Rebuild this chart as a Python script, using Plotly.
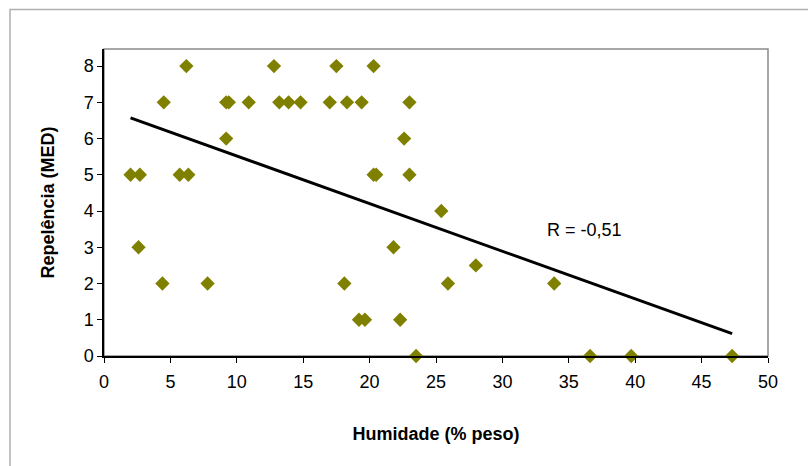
import numpy as np
import plotly.graph_objects as go

# Humidade (% peso) and Repelência (MED)
humidade = [4.5, 9.2, 9.4, 10.9, 13.2, 13.9, 14.8, 17.0, 18.3, 19.4, 23.0,
            6.2, 12.8, 17.5, 20.3,
            9.2, 22.6,
            2.0, 2.7, 5.7, 6.35, 20.3, 20.5, 23.0,
            25.4,
            2.6, 21.8,
            28.0,
            4.4, 7.8, 18.1, 25.9, 33.9,
            19.2, 19.65, 22.3,
            23.5, 36.6, 39.7, 47.3]
repelencia = [7, 7, 7, 7, 7, 7, 7, 7, 7, 7, 7,
              8, 8, 8, 8,
              6, 6,
              5, 5, 5, 5, 5, 5, 5,
              4,
              3, 3,
              2.5,
              2, 2, 2, 2, 2,
              1, 1, 1,
              0, 0, 0, 0]
r_label = "R = -0,51"
x_ticks = list(range(0, 51, 5))
y_ticks = list(range(0, 9))

x = np.array(humidade)
y = np.array(repelencia)
slope, intercept = np.polyfit(x, y, 1)
xt = np.array([x.min(), x.max()])
yt = slope * xt + intercept

FONT = "Liberation Sans, Arial, sans-serif"
L, R, T, B = 104, 40, 49, 110
W, H = 808, 466
pw, ph = W - L - R, H - T - B

def px(xp):
    return (xp - L) / pw

def py(yp):
    return (H - B - yp) / ph

fig = go.Figure()
fig.add_trace(go.Scatter(x=x, y=y, mode="markers",
                         marker=dict(symbol="diamond", size=11, color="#808000",
                                     line=dict(width=0)),
                         showlegend=False, cliponaxis=False))
fig.add_trace(go.Scatter(x=xt, y=yt, mode="lines",
                         line=dict(color="black", width=3),
                         showlegend=False))

fig.add_annotation(x=36.2, y=3.48, text=r_label, showarrow=False,
                   font=dict(family=FONT, size=18, color="black"))

fig.update_layout(
    width=W, height=H,
    margin=dict(l=L, r=R, t=T, b=B),
    paper_bgcolor="white", plot_bgcolor="white",
    font=dict(family=FONT, size=18, color="black"),
    shapes=[
        dict(type="rect", xref="paper", yref="paper",
             x0=px(10), x1=px(820), y0=py(480), y1=py(9.5),
             line=dict(color="#b0b0b0", width=1.5), layer="below"),
        dict(type="rect", xref="paper", yref="paper",
             x0=0, x1=1, y0=0, y1=1,
             line=dict(color="#8a8a8a", width=1.5), layer="below"),
    ],
)
fig.update_xaxes(range=[0, 50], tickvals=x_ticks, ticks="outside", ticklen=5,
                 tickcolor="black", showline=True, linecolor="black", linewidth=1.5,
                 showgrid=False, zeroline=False, ticklabelstandoff=4,
                 tickfont=dict(family=FONT, size=18),
                 title=dict(text="<b>Humidade (% peso)</b>",
                            font=dict(family=FONT, size=18), standoff=36))
fig.update_yaxes(range=[0, 8.47], tickvals=y_ticks, ticks="outside", ticklen=5,
                 tickcolor="black", showline=True, linecolor="black", linewidth=1.5,
                 showgrid=False, zeroline=False,
                 tickfont=dict(family=FONT, size=18),
                 title=dict(text="<b>Repelência (MED)</b>",
                            font=dict(family=FONT, size=18), standoff=24))

fig.write_html("out.html")
